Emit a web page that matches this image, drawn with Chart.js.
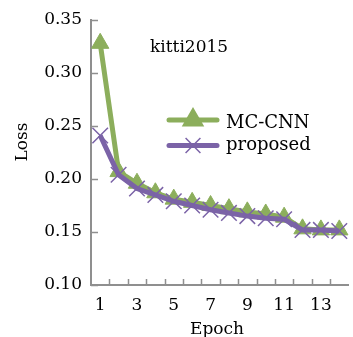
<!DOCTYPE html>
<html>
<head>
<meta charset="utf-8">
<script src="https://cdn.jsdelivr.net/npm/chart.js@4"></script>
<style>
html,body{margin:0;padding:0;background:#fff;overflow:hidden;width:353px;height:337px;}
canvas{display:block;}
</style>
</head>
<body>
<canvas id="c" width="361" height="337"></canvas>
<script>
const epochs = ['1','2','3','4','5','6','7','8','9','10','11','12','13','14'];
const mccnn = [0.328, 0.207, 0.196, 0.187, 0.181, 0.178, 0.175, 0.172, 0.169, 0.167, 0.164, 0.153, 0.152, 0.152];
const proposed = [0.241, 0.204, 0.191, 0.185, 0.179, 0.175, 0.171, 0.168, 0.165, 0.163, 0.162, 0.152, 0.152, 0.151];
const seriesNames = ['MC-CNN', 'proposed'];
const yTicks = [0.10, 0.15, 0.20, 0.25, 0.30, 0.35];
const panelTitle = 'kitti2015';
const xTitle = 'Epoch';
const yTitle = 'Loss';

const GREEN = '#8cae5c';
const PURPLE = '#7b63a7';
const AXIS = '#8f8f8f';
const TEXT = '#000000';
const FONT = 'DejaVu Serif';

const decor = {
  id: 'decor',
  afterDraw(chart) {
    const ctx = chart.ctx;
    const x = chart.scales.x, y = chart.scales.y;
    const area = chart.chartArea;
    ctx.save();
    ctx.strokeStyle = AXIS;
    ctx.lineWidth = 1.5;
    yTicks.forEach(v => {
      const py = Math.round(y.getPixelForValue(v)) + 0.5;
      ctx.beginPath();
      ctx.moveTo(area.left, py);
      ctx.lineTo(area.left + 7, py);
      ctx.stroke();
    });
    for (let i = 1; i < epochs.length; i++) {
      const px = Math.round((x.getPixelForValue(i - 1) + x.getPixelForValue(i)) / 2) + 0.5;
      ctx.beginPath();
      ctx.moveTo(px, area.bottom);
      ctx.lineTo(px, area.bottom - 6);
      ctx.stroke();
    }
    ctx.fillStyle = TEXT;
    ctx.font = '17px "' + FONT + '"';
    ctx.textAlign = 'left';
    ctx.textBaseline = 'alphabetic';
    ctx.fillText(panelTitle, 150, 52);
    const items = [
      {name: seriesNames[0], color: GREEN, style: 'triangle', y: 120, ty: 128},
      {name: seriesNames[1], color: PURPLE, style: 'crossRot', y: 145.5, ty: 150}
    ];
    items.forEach(it => {
      ctx.strokeStyle = it.color;
      ctx.lineWidth = 5;
      ctx.lineCap = 'round';
      ctx.beginPath();
      ctx.moveTo(169, it.y);
      ctx.lineTo(217, it.y);
      ctx.stroke();
      ctx.lineCap = 'butt';
      if (it.style === 'triangle') {
        ctx.fillStyle = it.color;
        Chart.helpers.drawPoint(ctx, {pointStyle: 'triangle', radius: 8, borderWidth: 1, rotation: 0}, 193, it.y);
        ctx.fill();
      } else {
        ctx.lineWidth = 1.5;
        Chart.helpers.drawPoint(ctx, {pointStyle: 'crossRot', radius: 10.5, borderWidth: 1.5, rotation: 0}, 193, it.y);
      }
      ctx.fillStyle = TEXT;
      ctx.font = '18px "' + FONT + '"';
      ctx.fillText(it.name, 226, it.ty);
    });
    ctx.font = '17px "' + FONT + '"';
    ctx.textAlign = 'left';
    ctx.fillText(xTitle, 190, 334);
    ctx.save();
    ctx.translate(27, 142);
    ctx.rotate(-Math.PI / 2);
    ctx.textAlign = 'center';
    ctx.fillText(yTitle, 0, 0);
    ctx.restore();
    ctx.restore();
  }
};

new Chart(document.getElementById('c'), {
  type: 'line',
  data: {
    labels: epochs,
    datasets: [
      {
        label: seriesNames[0],
        data: mccnn,
        borderColor: GREEN,
        backgroundColor: GREEN,
        borderWidth: 5,
        pointStyle: 'triangle',
        pointRadius: 10,
        pointBorderWidth: 1,
        pointBackgroundColor: GREEN,
        pointBorderColor: GREEN,
        tension: 0,
        order: 1
      },
      {
        label: seriesNames[1],
        data: proposed,
        borderColor: PURPLE,
        backgroundColor: PURPLE,
        borderWidth: 5,
        pointStyle: 'crossRot',
        pointRadius: 11,
        pointBorderWidth: 1.5,
        pointBorderColor: PURPLE,
        tension: 0,
        order: 0
      }
    ]
  },
  options: {
    responsive: false,
    animation: false,
    devicePixelRatio: 1,
    clip: false,
    layout: {padding: {top: 20, right: 0, bottom: 0, left: 0}},
    plugins: {legend: {display: false}, tooltip: {enabled: false}},
    scales: {
      x: {
        type: 'category',
        offset: true,
        grid: {display: false, drawTicks: false, offset: true},
        border: {display: true, color: AXIS, width: 2},
        ticks: {
          autoSkip: false,
          maxRotation: 0,
          padding: 10,
          color: TEXT,
          font: {family: FONT, size: 17},
          callback: function(v, i) { return i % 2 === 0 ? epochs[i] : ''; }
        },
        afterFit(s) { s.height = 52; }
      },
      y: {
        min: 0.10,
        max: 0.35,
        afterBuildTicks(s) { s.ticks = yTicks.map(v => ({value: v})); },
        grid: {display: false, drawTicks: false},
        border: {display: true, color: AXIS, width: 2},
        ticks: {
          padding: 9,
          color: TEXT,
          font: {family: FONT, size: 17},
          callback: v => Number(v).toFixed(2)
        },
        afterFit(s) { s.width = 91; }
      }
    }
  },
  plugins: [decor]
});
</script>
</body>
</html>
